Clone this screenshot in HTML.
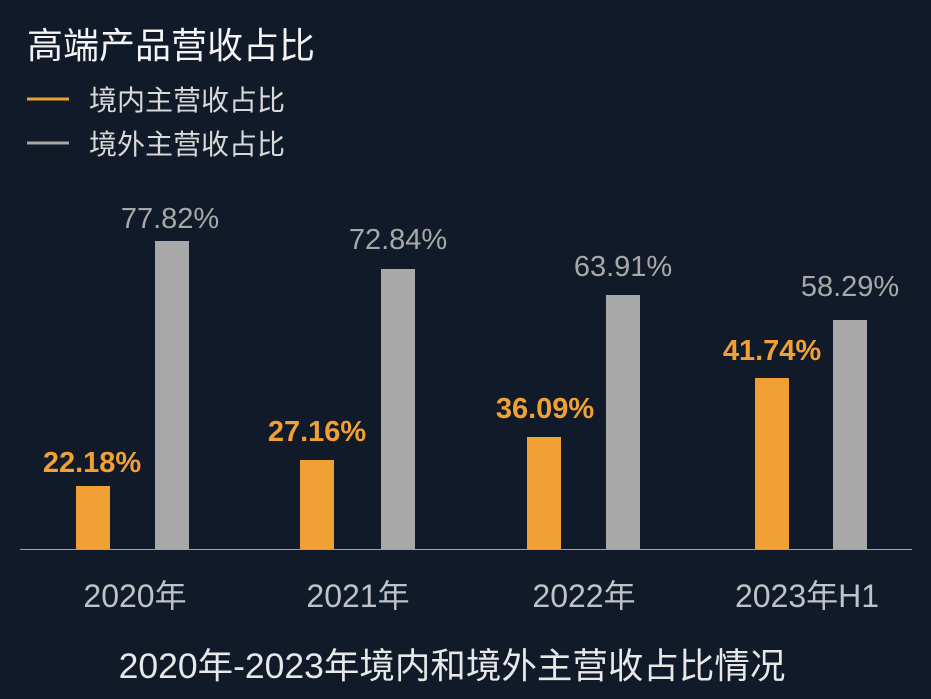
<!DOCTYPE html>
<html><head><meta charset="utf-8"><style>
html,body{margin:0;padding:0;background:#111a29;}
svg{display:block;font-family:"Liberation Sans","Noto Sans CJK SC",sans-serif;}
</style></head><body>
<svg width="931" height="699" viewBox="0 0 931 699" xmlns="http://www.w3.org/2000/svg">
<rect width="931" height="699" fill="#111a29"/>
<text x="27" y="58" font-size="36" fill="#f4f4f4">高端产品营收占比</text>
<line x1="27" y1="99" x2="69" y2="99" stroke="#f0a030" stroke-width="3"/>
<text x="89" y="110" font-size="28" fill="#d8d8d8">境内主营收占比</text>
<line x1="27" y1="143" x2="69" y2="143" stroke="#a8a8a8" stroke-width="3"/>
<text x="89" y="154" font-size="28" fill="#d8d8d8">境外主营收占比</text>
<line x1="20" y1="549.5" x2="912" y2="549.5" stroke="#a0a4aa" stroke-width="1"/>
<g fill="#f0a035">
<rect x="76" y="486" width="34" height="63"/>
<rect x="300" y="460" width="34" height="89"/>
<rect x="527" y="437" width="34" height="112"/>
<rect x="755" y="378" width="34" height="171"/>
</g>
<g fill="#a8a8a8">
<rect x="155" y="241" width="34" height="308"/>
<rect x="381" y="269" width="34" height="280"/>
<rect x="606" y="295" width="34" height="254"/>
<rect x="833" y="320" width="34" height="229"/>
</g>
<g font-size="29" font-weight="bold" fill="#f0a035" text-anchor="middle">
<text x="92" y="472">22.18%</text>
<text x="317" y="441">27.16%</text>
<text x="545" y="418">36.09%</text>
<text x="772" y="360">41.74%</text>
</g>
<g font-size="29" fill="#a8a8a8" text-anchor="middle">
<text x="170" y="228">77.82%</text>
<text x="398" y="249">72.84%</text>
<text x="623" y="276">63.91%</text>
<text x="850" y="296">58.29%</text>
</g>
<g font-size="32" fill="#bfc2c6" text-anchor="middle">
<text x="135" y="607">2020年</text>
<text x="358" y="607">2021年</text>
<text x="584" y="607">2022年</text>
<text x="807" y="607">2023年H1</text>
</g>
<text x="452" y="678" font-size="35.5" fill="#e8e8e8" text-anchor="middle">2020年-2023年境内和境外主营收占比情况</text>
</svg>
</body></html>
